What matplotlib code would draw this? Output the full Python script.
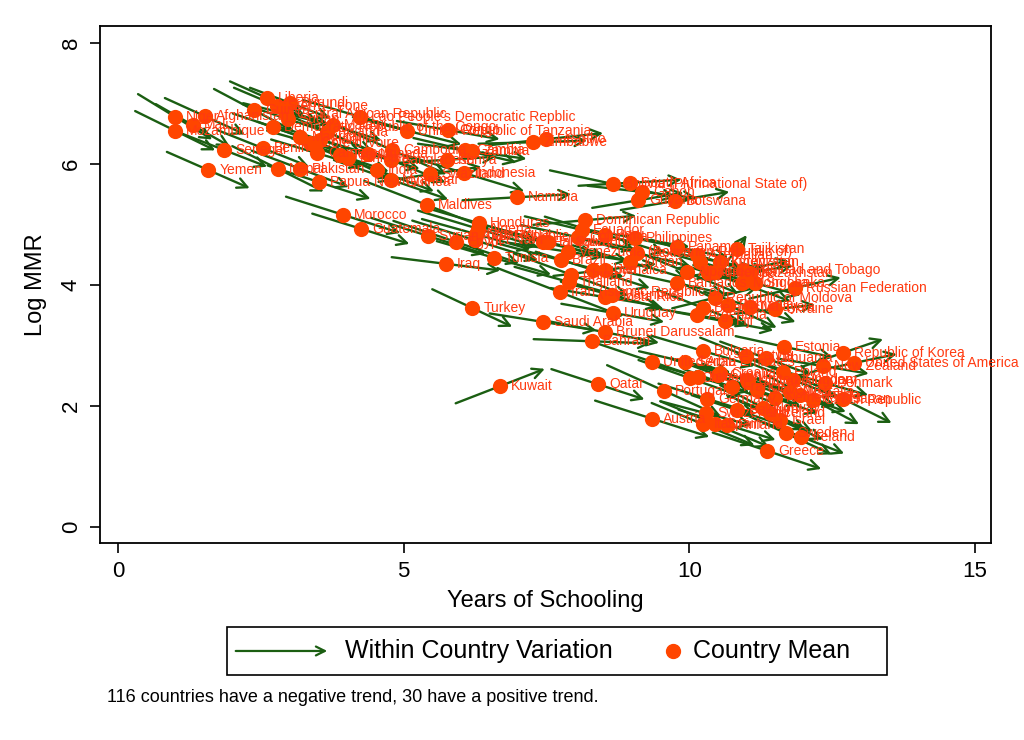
import matplotlib
matplotlib.use("Agg")
import matplotlib.pyplot as plt
from matplotlib.patches import Rectangle, FancyArrowPatch
from matplotlib.lines import Line2D

plt.rcParams['font.family'] = ['Liberation Sans Narrow', 'Liberation Sans', 'DejaVu Sans']

# country means (years of schooling, log MMR) and total change over the period
countries = [
    "Niger", "Afghanistan", "Mali", "Mozambique", "Liberia", "Sierra Leone", "Guinea",
    "Central African Republic", "Sudan", "Democratic Republic of the Congo", "Senegal", "Benin",
    "Yemen", "Nepal", "Pakistan", "Papua New Guinea", "Cote d'Ivoire", "Mauritania", "Rwanda",
    "Malawi", "Cameroon", "Togo", "Ethiopia", "Uganda", "India", "Bangladesh",
    "Lao People's Democratic Repblic", "United Republic of Tanzania", "Congo", "Zimbabwe",
    "Lesotho", "Gambia", "Zambia", "Kenya", "Swaziland", "Myanmar", "Indonesia", "Namibia",
    "Maldives", "Morocco", "Guatemala", "Syrian Arab Republic", "Egypt", "Honduras", "Algeria",
    "Nicaragua", "Viet Nam", "Iraq", "Tunisia", "Turkey", "Saudi Arabia", "Paraguay",
    "El Salvador", "Dominican Republic", "Ecuador", "Peru", "Philippines", "Colombia",
    "Venezuela (Bolivarian Republic of)", "Brazil", "Jordan", "Mexico", "Libya", "Jamaica",
    "China", "Thailand", "Iran (Islamic Republic of)", "Costa Rica", "Mauritius", "Uruguay",
    "Brunei Darussalam", "Bahrain", "Qatar", "Kuwait", "Bolivia (Plurinational State of)",
    "South Africa", "Gabon", "Guyana", "Botswana", "Panama", "Tajikistan", "Kyrgyzstan",
    "Azerbaijan", "Turkmenistan", "Barbados", "Albania", "Armenia", "Georgia",
    "Trinidad and Tobago", "Kazakhstan", "Mongolia", "Sri Lanka", "Russian Federation",
    "Republic of Moldova", "Belarus", "Romania", "Malaysia", "Ukraine", "Fiji", "Argentina",
    "Estonia", "Republic of Korea", "United States of America", "New Zealand", "Bulgaria",
    "Latvia", "Lithuania", "United Arab Emirates", "Serbia", "Lebanon", "Croatia", "Slovakia",
    "Portugal", "Germany", "Switzerland", "Austria", "Italy", "Spain", "Finland", "Norway",
    "Iceland", "Sweden", "Ireland", "Greece", "Czech Republic", "Japan", "Poland", "Hungary",
    "Slovenia", "Australia", "Denmark", "Canada", "Netherlands", "France", "Belgium", "Israel",
    "Cyprus", "United Kingdom", "Chile", "Burundi", "Haiti", "Cambodia",
]

school_mean = [
    1.00, 1.52, 1.31, 1.00, 2.61, 2.78, 2.38,
    2.94, 2.98, 2.71, 1.86, 2.54,
    1.58, 2.80, 3.19, 3.52, 3.36, 3.19, 3.66,
    3.76, 3.48, 3.89, 4.03, 4.38, 4.53, 4.78,
    4.24, 5.06, 5.78, 7.26,
    7.49, 6.07, 6.20, 5.76, 5.46, 4.78, 6.06, 6.98,
    5.41, 3.94, 4.25, 5.43, 5.92, 6.32, 6.30,
    6.27, 6.25, 5.74, 6.58, 6.20, 7.44, 7.44,
    7.53, 8.17, 8.12, 8.52, 9.05, 8.05,
    7.88, 7.75, 8.96, 9.08, 8.31, 8.52,
    7.93, 7.89, 7.74, 8.52, 8.65, 8.66,
    8.52, 8.30, 8.40, 6.69, 8.66,
    8.96, 9.17, 9.10, 9.75, 9.78, 10.83, 10.54,
    10.13, 10.19, 9.78, 9.96, 10.33, 10.45,
    10.94, 11.06, 10.92, 11.15, 11.85,
    10.45, 10.24, 10.68, 11.06, 11.50, 10.62, 10.13,
    11.66, 12.69, 12.88, 12.34, 10.24,
    10.99, 11.34, 9.35, 9.92, 10.15, 10.54, 11.03,
    9.56, 10.31, 10.29, 9.35, 10.24, 10.45, 10.66, 11.29,
    11.41, 11.69, 11.96, 11.36, 12.17, 12.69, 11.64, 11.82,
    11.19, 11.76, 12.38, 11.94, 11.50, 10.75, 10.84, 11.59,
    10.50, 11.01, 10.01, 3.01, 3.54, 4.80,
]

mmr_mean = [
    6.78, 6.79, 6.64, 6.55, 7.09, 6.96, 6.89,
    6.83, 6.74, 6.61, 6.23, 6.26,
    5.90, 5.92, 5.92, 5.70, 6.35, 6.45, 6.53,
    6.64, 6.18, 6.15, 6.10, 6.17, 5.90, 6.07,
    6.78, 6.55, 6.56, 6.36,
    6.41, 6.23, 6.21, 6.07, 5.83, 5.74, 5.85, 5.45,
    5.32, 5.16, 4.93, 4.81, 4.71, 5.02, 4.93,
    4.84, 4.74, 4.35, 4.45, 3.62, 3.39, 4.71,
    4.71, 5.07, 4.91, 4.83, 4.78, 4.79,
    4.55, 4.41, 4.38, 4.53, 4.25, 4.25,
    4.17, 4.05, 3.88, 3.80, 3.83, 3.54,
    3.22, 3.07, 2.36, 2.33, 5.67,
    5.69, 5.54, 5.40, 5.39, 4.63, 4.60, 4.38,
    4.50, 4.38, 4.03, 4.21, 4.20, 4.21,
    4.25, 4.20, 4.03, 4.03, 3.95,
    3.79, 3.62, 3.67, 3.64, 3.60, 3.40, 3.50,
    2.98, 2.88, 2.71, 2.66, 2.91,
    2.83, 2.79, 2.73, 2.73, 2.48, 2.55, 2.40,
    2.25, 2.12, 1.88, 1.79, 1.70, 1.70, 1.69, 1.97,
    1.88, 1.55, 1.49, 1.26, 2.10, 2.12, 2.56, 2.43,
    2.26, 2.23, 2.38, 2.18, 2.13, 2.31, 1.93, 1.77,
    2.51, 2.43, 2.46, 7.01, 6.40, 6.23,
]

school_change = [
    1.3, 1.4, 1.3, 1.4, 1.3, 1.5, 1.4,
    1.5, 1.6, 1.4, 1.5, 1.6,
    1.45, 1.6, 1.7, 1.8, 1.5, 1.5, 1.6,
    1.7, 1.6, 1.7, 1.5, 1.8, 2.0, 1.9,
    2.0, 1.9, 1.8, 1.9,
    2.0, 1.8, 1.9, 1.7, 1.8, 2.0, 2.1, 1.9,
    2.2, 2.0, 1.7, 2.0, 2.2, 2.0, 2.1,
    1.9, 2.2, 1.9, 2.0, 1.4, 1.87, 1.8,
    2.0, 1.8, 2.0, 2.1, 1.9, 2.0,
    2.1, 2.2, 2.0, 1.9, 2.0, 1.8,
    2.0, 1.9, 2.2, 1.9, 1.8, 1.8,
    1.9, 2.05, 1.63, 1.56, 2.2,
    1.8, 1.9, 1.6, 1.9, 1.8, 0.35, 1.6,
    1.6, 1.5, 1.7, 1.8, 1.5, 1.4,
    1.6, 1.5, 1.7, 1.6, 1.6,
    1.5, 1.6, 1.7, 1.6, 1.4, 1.7, 1.6,
    1.7, 1.4, 1.5, 1.6, 1.8,
    1.6, 1.6, 1.9, 1.6, 1.8, 1.7, 1.6,
    2.0, 1.7, 1.6, 2.0, 1.8, 1.9, 1.7, 1.5,
    1.5, 1.6, 1.5, 1.9, 1.6, 1.7, 1.6, 1.5,
    1.5, 1.6, 1.5, 1.6, 1.5, 1.7, 1.6, 1.5,
    1.6, 1.7, 1.8, 1.4, 1.5, 1.9,
]

mmr_change = [
    -0.75, -0.60, -0.70, -0.65, -0.55, -0.60, -0.70,
    -0.35, -0.50, -0.45, -0.55, -0.60,
    -0.60, -0.75, -0.60, -0.55, -0.40, -0.50, -0.65,
    -0.50, -0.45, -0.55, -0.70, -0.50, -0.70, -0.75,
    -0.55, -0.45, -0.30, 0.05,
    0.20, -0.40, -0.25, 0.10, 0.25, -0.65, -0.60, 0.10,
    -0.80, -0.60, -0.50, -0.60, -0.70, -0.55, -0.60,
    -0.50, -0.65, -0.22, -0.55, -0.62, -0.28, -0.40,
    -0.50, 0.15, -0.45, -0.60, -0.30, -0.40,
    -0.30, -0.55, -0.55, -0.45, -0.60, 0.20,
    -0.70, -0.50, -0.80, -0.30, -0.45, -0.30,
    -0.35, -0.07, -0.50, 0.57, -0.45,
    0.10, -0.20, 0.25, 0.30, -0.35, 0.45, -0.30,
    -0.50, -0.40, -0.35, -0.70, -0.45, 0.20,
    0.30, 0.25, -0.60, -0.40, 0.35,
    0.35, -0.60, -0.75, -0.50, 0.15, -0.30, -0.25,
    -0.35, 0.45, 0.30, -0.25, -0.50,
    -0.60, -0.55, -0.60, -0.35, -0.50, -0.45, -0.60,
    -0.85, -0.50, -0.40, -0.60, -0.70, -0.75, -0.50, -0.75,
    -0.60, -0.70, -0.55, -0.60, -0.80, -0.80, -0.60, -0.55,
    -0.50, -0.45, -0.40, -0.55, -0.50, -0.60, -0.50, -0.65,
    -0.55, -0.50, -0.60, -0.50, -0.45, -0.80,
]

arrow_color = "#1b5e12"
dot_color = "#ff4500"
label_color = "#ff3a10"

fig = plt.figure(figsize=(10.24, 7.4), dpi=100)
ax = fig.add_axes([0.0977, 0.2662, 0.8701, 0.6986])

for i in range(len(countries)):
    x0 = school_mean[i] - school_change[i] / 2
    x1 = school_mean[i] + school_change[i] / 2
    y0 = mmr_mean[i] - mmr_change[i] / 2
    y1 = mmr_mean[i] + mmr_change[i] / 2
    ax.annotate("", xy=(x1, y1), xytext=(x0, y0),
                arrowprops=dict(arrowstyle="->", color=arrow_color, lw=1.7,
                                mutation_scale=18, shrinkA=0, shrinkB=0),
                zorder=2)

ax.scatter(school_mean, mmr_mean, s=120, color=dot_color, zorder=3, linewidths=0)

for i in range(len(countries)):
    ax.annotate(countries[i], (school_mean[i], mmr_mean[i]), xytext=(8, 0),
                textcoords="offset points", va="center", ha="left",
                fontsize=10, color=label_color, family="Liberation Sans", zorder=4)

ax.set_xlim(-0.315, 15.28)
ax.set_ylim(-0.264, 8.28)
ax.set_xticks([0, 5, 10, 15])
ax.set_yticks([0, 2, 4, 6, 8])
ax.tick_params(axis="both", direction="out", length=7, width=1.2, labelsize=16, pad=6)
ax.tick_params(axis="y", labelrotation=90)
for lbl in ax.get_yticklabels():
    lbl.set_va("center")
for sp in ax.spines.values():
    sp.set_linewidth(1.3)
ax.set_xlabel("Years of Schooling", fontsize=17, labelpad=6)
ax.set_ylabel("Log MMR", fontsize=17, labelpad=10)

# legend box drawn below the plot
fig.add_artist(Rectangle((0.2217, 0.0878), 0.6445, 0.0649, transform=fig.transFigure,
                         fill=False, edgecolor="black", lw=1.2))
fig.add_artist(FancyArrowPatch((0.2275, 0.1203), (0.3223, 0.1203), transform=fig.transFigure,
                               arrowstyle="->", color=arrow_color, lw=1.6, mutation_scale=16))
fig.text(0.337, 0.1203, "Within Country Variation", fontsize=18, va="center", ha="left")
fig.add_artist(Line2D([0.657], [0.1203], transform=fig.transFigure, marker="o",
                      markersize=10, color=dot_color, linestyle="none"))
fig.text(0.677, 0.1203, "Country Mean", fontsize=18, va="center", ha="left")

fig.text(0.1045, 0.0568, "116 countries have a negative trend, 30 have a positive trend.",
         fontsize=13, va="center", ha="left")

fig.savefig("out.png", dpi=100)
